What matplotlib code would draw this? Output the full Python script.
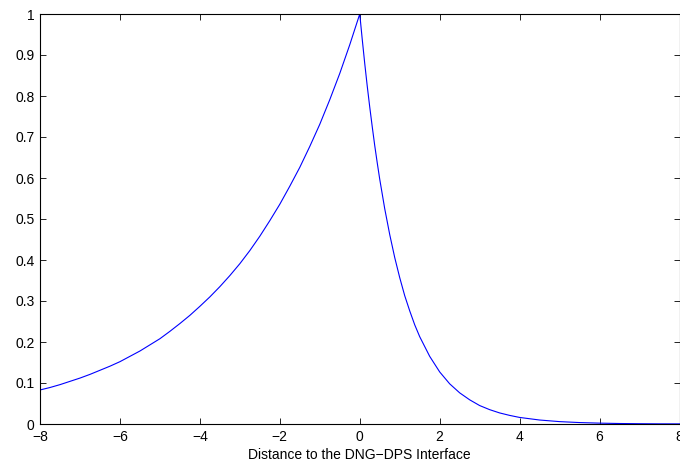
import matplotlib.pyplot as plt

plt.rcParams['font.family'] = ['Liberation Sans', 'DejaVu Sans']

# values
x_left = [-8, -7.75, -7.5, -7.25, -7, -6.75, -6.5, -6.25, -6, -5.75, -5.5, -5.25, -5,
          -4.75, -4.5, -4.25, -4, -3.75, -3.5, -3.25, -3, -2.75, -2.5, -2.25, -2,
          -1.75, -1.5, -1.25, -1, -0.75, -0.5, -0.25, 0]
y_left = [0.083, 0.089, 0.096, 0.104, 0.112, 0.121, 0.131, 0.141, 0.152, 0.165, 0.178,
          0.193, 0.208, 0.226, 0.245, 0.265, 0.287, 0.310, 0.335, 0.362, 0.391, 0.423,
          0.458, 0.496, 0.536, 0.580, 0.626, 0.677, 0.731, 0.791, 0.855, 0.925, 1.0]

x_right = [0.0625, 0.125, 0.1875, 0.25, 0.3125, 0.375, 0.4375, 0.5, 0.625, 0.75, 0.875,
           1.0, 1.125, 1.25, 1.375, 1.5, 1.75, 2.0, 2.25, 2.5, 2.75, 3.0, 3.25, 3.5,
           3.75, 4.0, 4.5, 5.0, 5.5, 6.0, 6.5, 7.0, 7.5, 8.0]
y_right = [0.938, 0.879, 0.824, 0.773, 0.725, 0.679, 0.637, 0.597, 0.525, 0.462, 0.406,
           0.357, 0.313, 0.276, 0.242, 0.213, 0.165, 0.127, 0.098, 0.076, 0.059, 0.045,
           0.035, 0.027, 0.021, 0.016, 0.0097, 0.0058, 0.0035, 0.0021, 0.0012, 0.0007,
           0.0004, 0.0003]

x_vals = x_left + x_right
y_vals = y_left + y_right

x_ticks = [-8, -6, -4, -2, 0, 2, 4, 6, 8]
y_ticks = [0, 0.1, 0.2, 0.3, 0.4, 0.5, 0.6, 0.7, 0.8, 0.9, 1]
y_labels = ['0', '0.1', '0.2', '0.3', '0.4', '0.5', '0.6', '0.7', '0.8', '0.9', '1']

fig = plt.figure(figsize=(6.8, 4.66), dpi=100)
ax = fig.add_axes([40 / 680, 1 - 424 / 466, 639.5 / 680, 410 / 466])

ax.plot(x_vals, y_vals, color='#0000ff', linewidth=0.8)

ax.set_xlim(-8, 8)
ax.set_ylim(0, 1)
ax.set_xticks(x_ticks)
ax.set_xticklabels([str(t).replace('-', '\u2212') for t in x_ticks])
ax.set_yticks(y_ticks)
ax.set_yticklabels(y_labels)
ax.tick_params(direction='in', length=4.5, width=0.6, top=True, right=True,
               labelsize=10)
ax.tick_params(axis='x', pad=4)
ax.tick_params(axis='y', pad=4)
for s in ax.spines.values():
    s.set_linewidth(0.8)

ax.set_xlabel('Distance to the DNG\u2212DPS Interface', fontsize=10, labelpad=3)

fig.savefig('out.png', dpi=100)
